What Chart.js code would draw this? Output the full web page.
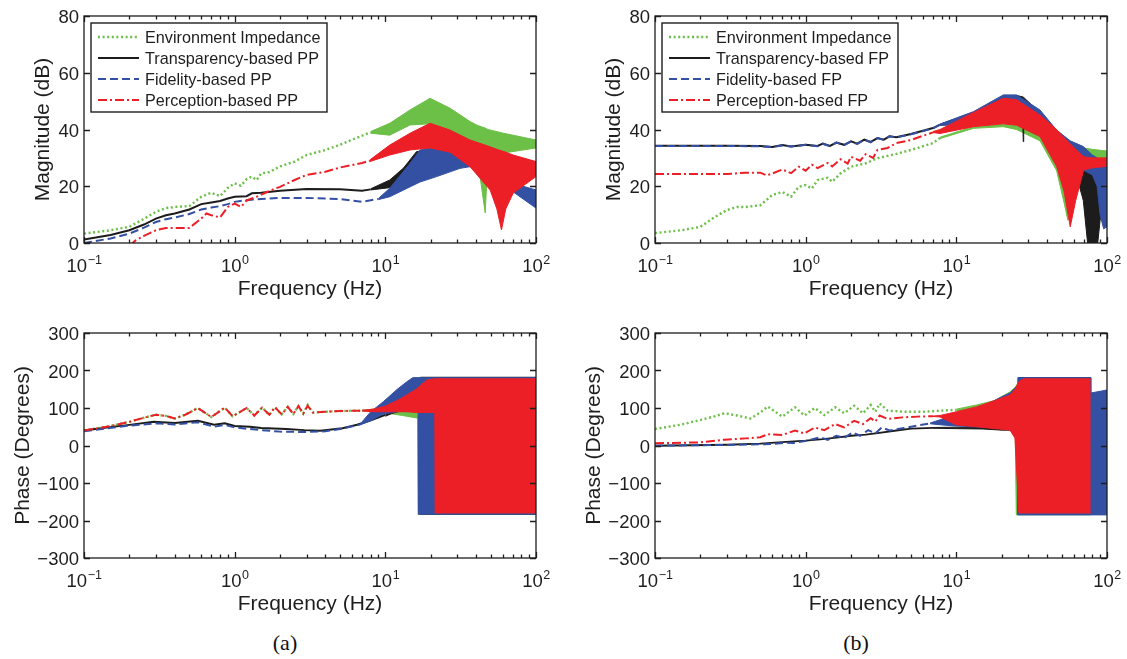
<!DOCTYPE html>
<html>
<head>
<meta charset="utf-8">
<script src="https://cdn.jsdelivr.net/npm/chart.js@4.4.1/dist/chart.umd.min.js"></script>
<style>
  body { margin: 0; background: #fff; }
  #page { position: relative; width: 1127px; height: 659px; overflow: hidden; background: #fff; }
  canvas { position: absolute; }
  .cap { position: absolute; font-family: "Liberation Serif", "Times New Roman", serif; font-size: 22px; line-height: 24px; color: #111; transform: translateX(-50%); }
</style>
</head>
<body>
<div id="page">
  <canvas id="aMag" width="556" height="310" style="left:0;top:0"></canvas>
  <canvas id="bMag" width="556" height="310" style="left:571px;top:0"></canvas>
  <canvas id="aPh" width="556" height="310" style="left:0;top:317px"></canvas>
  <canvas id="bPh" width="556" height="310" style="left:571px;top:317px"></canvas>
  <div class="cap" style="left:285px;top:631px">(a)</div>
  <div class="cap" style="left:856px;top:631px">(b)</div>
</div>
<script>
// ticks / labels
const freqTicks = [0.1, 1, 10, 100];
const freqExp = ['\u22121', '0', '1', '2'];
const magTicks = [0, 20, 40, 60, 80];
const phaseTicks = [-300, -200, -100, 0, 100, 200, 300];
const legendA = ['Environment Impedance', 'Transparency-based PP', 'Fidelity-based PP', 'Perception-based PP'];
const legendB = ['Environment Impedance', 'Transparency-based FP', 'Fidelity-based FP', 'Perception-based FP'];

// ---- (a) magnitude, dB ----
const aMagEnvF = [0.1,0.15,0.2,0.25,0.3,0.35,0.4,0.5,0.6,0.7,0.8,0.9,1,1.1,1.2,1.3,1.4,1.5,1.7,2,2.5,3,4,5,6,7,8];
const aMagEnvV = [3.3,4.5,5.7,8.5,11,12.3,12.7,13,16.3,17.7,16.5,19.4,21,20.2,22.5,23.4,22.2,24.5,25,27,28.7,31,32.8,34.6,36.4,37.8,39];
const aMagEnvBF = [8,10.7,14.6,19.8,26.9,36.5,40.6,46,48,60.7,100];
const aMagEnvHi = [39.3,42.2,46.9,51,47.5,42.8,41.5,40.5,40,38.7,36.3];
const aMagEnvLo = [38.7,38,41.6,42,38,32.8,31,10.6,30,31.7,33.5];

const aMagTrF = [0.1,0.15,0.2,0.25,0.3,0.35,0.4,0.5,0.6,0.7,0.8,0.9,1,1.2,1.3,1.5,2,3,5,7,8];
const aMagTrV = [1.2,2.8,4.5,6.5,8.6,9.8,10.4,11.8,13.7,14.3,14.8,15.7,16.3,16.5,17.5,17.7,18.4,19,18.9,18.4,18.9];
const aMagTrBF = [8,10.7,13.2,16.1,20];
const aMagTrHi = [19.1,22.2,26.4,32.2,33];
const aMagTrLo = [18.7,19.5,21,24,26];

const aMagFidF = [0.1,0.15,0.2,0.25,0.3,0.35,0.4,0.5,0.6,0.7,0.8,0.9,1,1.2,1.5,2,3,5,7,8,9];
const aMagFidV = [0,1.6,3.3,5.4,7.4,8.4,9,10.2,11.8,12.5,13,13.7,14.5,15.1,15.5,15.9,15.9,15.5,14.5,15.1,15.5];
const aMagFidBF = [9,10.7,14.6,17,21.9,31.3,36.5,49.6,70.6,100];
const aMagFidHi = [15.7,19.3,28.1,32.8,33.9,30.4,29.2,27,21,18.7];
const aMagFidLo = [15.3,16.3,19.8,21.5,23.4,26.3,26.9,24,18,12.3];

const aMagPerF = [0.2,0.22,0.25,0.3,0.35,0.4,0.5,0.6,0.65,0.7,0.8,0.9,1,1.1,1.2,1.4,1.6,1.8,2,2.5,3,4,5,7,7.9];
const aMagPerV = [-1,0.9,2.5,4.5,5.3,5.3,5.3,8.6,10.4,9.8,9,12.7,13.9,12.7,15,16.3,17.7,18.9,19.8,22.2,24,25.1,26.6,28.2,29];
const aMagPerBF = [7.9,10.7,14.6,19.8,26.9,36.5,49.6,55,59,63,70.6,100];
const aMagPerHi = [29.3,34.5,38.7,42.2,39.8,36.3,33.9,33,32.5,32,31,28.7];
const aMagPerLo = [28.7,31,32.8,33.5,32,26.9,18.7,12,4.6,12,17.6,23.4];

// ---- (b) magnitude, dB ----
const bMagEnvF = [0.1,0.15,0.2,0.25,0.3,0.35,0.4,0.5,0.6,0.7,0.8,0.9,1,1.1,1.2,1.4,1.5,1.7,2,2.5,3,4,5,7,7.8];
const bMagEnvV = [3.5,4.5,5.7,9.2,11.6,12.7,12.7,13.3,16.9,18,16.3,19.8,20.4,19.2,22.2,23,21.6,24.5,26.9,28.1,29.9,31.4,32.8,35.2,37];
const bMagEnvBF = [7.8,13,20.5,25.1,35.9,46.3,52,55,58,70,80,100];
const bMagEnvHi = [37.3,41,42,41.5,38,35,34.5,34,33.8,33.5,33,32.4];
const bMagEnvLo = [36.8,40.4,41,40,36,25.5,14,8,18,28,29,30];

const bMagTrF = [0.1,0.3,0.5,0.6,0.7,0.8,1,1.2,1.3,1.45,1.6,1.8,2,2.2,2.45,2.7,3,3.3,3.6,4,5,7,7.8];
const bMagTrV = [34.3,34.3,34.2,33.8,34.5,34,34.6,34.2,35,34.2,35.4,34.6,35.8,35,36.4,35.6,37,36.4,37.6,37.3,38.4,40.5,41.7];
const bMagTrBF = [7.8,13,20.5,25.1,27.6,27.8,28,35.9,46.3,57,64,69.6,75,80,86,90,100];
const bMagTrHi = [41.9,46,51.5,52,51.5,51.4,51.3,46,39,35,33,32,30,29,28,27,26];
const bMagTrLo = [41.5,42,44,44,43.5,35.7,43.3,40,33,26,22,15,-2,-2,-2,8,15];

const bMagFidF = [0.1,0.3,0.5,0.6,0.7,0.8,1,1.2,1.3,1.45,1.6,1.8,2,2.2,2.45,2.7,3,3.3,3.6,4,5,7,7.8];
const bMagFidV = [34.2,34.2,34.1,33.8,34.4,34,34.6,34.1,35,34.1,35.4,34.5,35.8,34.9,36.4,35.5,37,36.3,37.6,37.2,38.3,40.4,41.7];
const bMagFidBF = [7.8,13,20.5,25.1,35.9,46.3,57,69.6,80,86,90,95,100];
const bMagFidHi = [41.9,46.3,52.2,52.2,46.9,39.8,36,34,31,30,29.5,29,29];
const bMagFidLo = [41.5,42,44,44,40,34,28,25.7,24,20,10,5,5.7];

const bMagPerF = [0.1,0.2,0.3,0.4,0.5,0.55,0.6,0.7,0.8,0.9,1,1.1,1.2,1.4,1.5,1.7,1.9,2,2.3,2.5,2.8,3,3.5,4,5,7];
const bMagPerV = [24.3,24.3,24.3,24.8,24.8,23.8,24.5,25.9,24.6,26.9,25.5,27.6,26.4,28.2,27,29.5,28,30.4,29,31.3,30,32.8,33.5,35.2,36.3,39];
const bMagPerBF = [7,7.8,13,20.5,25.1,35.9,46.3,52,57,62,70,80,100];
const bMagPerHi = [39.3,40,46,51,50.5,45.1,40,37,35,33,30.4,30,30];
const bMagPerLo = [38.9,38.6,41,42,41.5,37.5,27,18,5.7,15,25.7,26.5,27];

// ---- (a) phase, degrees ----
const aPhEnvF = [0.1,0.15,0.2,0.25,0.3,0.35,0.4,0.47,0.57,0.7,0.86,0.97,1.2,1.35,1.52,1.7,1.85,2.05,2.25,2.45,2.65,2.85,3.05,3.3,4,5,7,10];
const aPhEnvV = [40,52,63,74,82,79,72,82,100,76,101,78,100,80,101,82,102,83,103,84,105,85,108,88,90,92,93,97];
const aPhEnvBF = [7,9.7,13,16.4,16.5,100];
const aPhEnvHi = [93.5,100,105,110,181,181];
const aPhEnvLo = [92.5,88,80,73,-184,-184];

const aPhTrF = [0.1,0.15,0.2,0.29,0.4,0.57,0.73,0.86,1,1.26,1.5,2.2,2.9,3.7,5.2,6.5,8.1,10];
const aPhTrV = [40,49,55,63.5,60,66,55.5,59,52,50,46.7,44,41,39.6,45.8,55.5,68,82];
const aPhTrBF = [10,11,12.5,14,16,17,17.1,100];
const aPhTrHi = [84,95,118,125,135,150,182,182];
const aPhTrLo = [78,85,92,95,98,100,-183,-183];

const aPhFidF = [0.1,0.2,0.3,0.4,0.57,0.73,0.86,1,1.5,2,3,4,5,6.8];
const aPhFidV = [38,53,59,56,62,50,55,48,41,37,36,38,44,56];
const aPhFidBF = [6.8,8,9.7,12,13.9,15.2,16.5,16.6,100];
const aPhFidHi = [57,90,117,150,170,181,181,181,181];
const aPhFidLo = [55,66,84,90,92,92,92,-183,-183];

const aPhPerF = [0.1,0.15,0.2,0.25,0.3,0.35,0.4,0.47,0.57,0.7,0.86,0.97,1.2,1.35,1.52,1.7,1.85,2.05,2.25,2.45,2.65,2.85,3.05,3.3,4,5,7];
const aPhPerV = [40,52,63,74,82,79,72,82,100,76,101,78,100,80,101,82,102,83,103,84,105,85,106,88,90,92,93];
const aPhPerBF = [7,8.3,10,12,13.9,16,18.9,21.3,21.4,100];
const aPhPerHi = [94,97,105,120,135,150,175,178,178,178];
const aPhPerLo = [92,90,90,90,90,88,88,88,-180,-180];

// ---- (b) phase, degrees ----
const bPhEnvF = [0.1,0.15,0.2,0.25,0.29,0.35,0.43,0.5,0.56,0.7,0.85,0.98,1.15,1.33,1.57,1.8,2.1,2.4,2.7,2.9,3.1,3.5,4.5,6,8,10];
const bPhEnvV = [44,56,68,78,86,80,72,88,104,77,102,80,100,81,102,86,106,86,108,90,112,93,90,90,93,95];
const bPhEnvBF = [10,13.6,18,22.7,24.5,25,26.4,28,78];
const bPhEnvHi = [97,108,120,143,155,160,175,181,181];
const bPhEnvLo = [93,90,90,92,94,-185,-185,-185,-185];

const bPhTrF = [0.1,0.3,0.5,0.7,1,1.3,1.6,2,2.5,3,4,5,7];
const bPhTrV = [-1,2,5,9,13,17,21,26,29,33,40,45,47];
const bPhTrBF = [7,10,15,20,25,25.8,25.9,78];
const bPhTrHi = [48,49,48,45,50,60,181,181];
const bPhTrLo = [46,45,44,41,41,41,-183,-183];

const bPhFidF = [0.1,0.3,0.6,0.74,0.83,1.03,1.25,1.4,1.6,1.8,2.05,2.3,2.6,2.9,3.2,3.6,4.4,5.5,6.7];
const bPhFidV = [-0.5,1.5,4,7.6,7,13,22,15,26,20,35,26,41,32,48,40,46,53,59];
const bPhFidBF = [6.7,8,10,13,16,20,22.7,25.5,25.6,78,78.1,100];
const bPhFidHi = [60,70,80,92,110,130,140,160,181,181,140,148];
const bPhFidLo = [58,55,52,50,48,46,46,46,-185,-185,-185,-185];

const bPhPerF = [0.1,0.2,0.29,0.4,0.5,0.56,0.7,0.85,0.98,1.15,1.33,1.57,1.8,2.1,2.4,2.7,2.9,3.1,3.5,4.4,5.5,7];
const bPhPerV = [6,8.4,15.6,19,22,30,28,40,32,48,41,57,48,66,57,73,64,80,71,75,77,78];
const bPhPerBF = [7,7.8,10,13.6,18,22.7,24.5,26,27.9,78];
const bPhPerHi = [78.5,80,90,103,120,135,150,170,178,178];
const bPhPerLo = [77.5,76,55,50,45,41,20,-180,-180,-180];

const styles = {
  env: { color: '#6cbf47', dash: [2, 2.6], width: 2.4, order: 4 },
  tr:  { color: '#1c1c1c', dash: [], width: 2, order: 3 },
  fid: { color: '#3450a2', dash: [8, 4], width: 2, order: 2 },
  per: { color: '#ec1f27', dash: [9, 3, 2, 3], width: 2, order: 1 }
};
const seriesKeys = ['env', 'tr', 'fid', 'per'];
const FONT = '"Liberation Sans", Arial, sans-serif';

function pts(f, v) {
  return f.map((x, i) => ({ x: x, y: v[i] }));
}

// line part + filled band (hi filled down to lo) for each series
function build(list) {
  const sets = [];
  list.forEach(s => {
    const st = styles[s.key];
    sets.push({ data: pts(s.f, s.v), borderColor: st.color, borderWidth: st.width, borderDash: st.dash, order: st.order, fill: false });
    const hi = sets.length;
    sets.push({ data: pts(s.bf, s.hi), borderColor: st.color, backgroundColor: st.color, borderWidth: 1, order: st.order, fill: hi + 1 });
    sets.push({ data: pts(s.bf, s.lo), borderColor: st.color, borderWidth: 1, order: st.order, fill: false });
  });
  return sets;
}

const framePlugin = {
  id: 'frame',
  afterDatasetsDraw(chart, args, o) {
    const { ctx, chartArea: a } = chart;
    const x = chart.scales.x, y = chart.scales.y;
    ctx.save();
    ctx.strokeStyle = '#1e1e1e';
    ctx.lineWidth = 1.3;
    ctx.setLineDash([]);
    ctx.beginPath();
    freqTicks.forEach((d, i) => {
      for (let m = 1; m < 10; m++) {
        if (i === freqTicks.length - 1 && m > 1) break;
        const px = Math.round(x.getPixelForValue(d * m)) + 0.5;
        const len = m === 1 ? 6 : 3.5;
        ctx.moveTo(px, a.bottom); ctx.lineTo(px, a.bottom - len);
        ctx.moveTo(px, a.top); ctx.lineTo(px, a.top + len);
      }
    });
    o.yTicks.forEach(v => {
      const py = Math.round(y.getPixelForValue(v)) + 0.5;
      ctx.moveTo(a.left, py); ctx.lineTo(a.left + 6, py);
      ctx.moveTo(a.right, py); ctx.lineTo(a.right - 6, py);
    });
    ctx.stroke();
    ctx.strokeRect(a.left, a.top, a.right - a.left, a.bottom - a.top);

    ctx.fillStyle = '#1e1e1e';
    // y tick labels
    ctx.font = '18.5px ' + FONT;
    ctx.textAlign = 'right';
    ctx.textBaseline = 'alphabetic';
    o.yTicks.forEach(v => {
      const py = y.getPixelForValue(v);
      ctx.fillText(v < 0 ? '\u2212' + Math.abs(v) : String(v), a.left - 5, py + 7);
    });
    // x tick labels 10^n
    ctx.textAlign = 'left';
    freqTicks.forEach((d, i) => {
      const px = x.getPixelForValue(d);
      ctx.font = '18.5px ' + FONT;
      const w1 = ctx.measureText('10').width;
      ctx.font = '12.5px ' + FONT;
      const w2 = ctx.measureText(freqExp[i]).width;
      const x0 = px - (w1 + w2) / 2;
      ctx.font = '18.5px ' + FONT;
      ctx.fillText('10', x0, a.bottom + 29);
      ctx.font = '12.5px ' + FONT;
      ctx.fillText(freqExp[i], x0 + w1 + 0.5, a.bottom + 21);
    });
    // axis titles
    ctx.font = '21px ' + FONT;
    ctx.textAlign = 'center';
    ctx.fillText('Frequency (Hz)', (a.left + a.right) / 2, a.bottom + 52);
    ctx.save();
    ctx.translate(a.left - o.titleOff, (a.top + a.bottom) / 2);
    ctx.rotate(-Math.PI / 2);
    ctx.fillText(o.yTitle, 0, 0);
    ctx.restore();

    // legend box
    if (o.legend) {
      const L = 91, T = 23, W = 236, H = 89;
      ctx.fillStyle = '#fff';
      ctx.fillRect(L, T, W, H);
      ctx.lineWidth = 1.4;
      ctx.strokeStyle = '#1e1e1e';
      ctx.strokeRect(L, T, W, H);
      ctx.font = '16.2px ' + FONT;
      ctx.textAlign = 'left';
      o.legend.forEach((txt, i) => {
        const st = styles[seriesKeys[i]];
        const ry = T + 14 + i * 21;
        ctx.beginPath();
        ctx.strokeStyle = st.color;
        ctx.lineWidth = st.width;
        ctx.setLineDash(st.dash);
        ctx.moveTo(L + 7, ry);
        ctx.lineTo(L + 48, ry);
        ctx.stroke();
        ctx.setLineDash([]);
        ctx.fillStyle = '#1e1e1e';
        ctx.fillText(txt, L + 54, ry + 6);
      });
    }
    ctx.restore();
  }
};

function makeChart(id, list, yMin, yMax, frame, padBottom) {
  return new Chart(document.getElementById(id), {
    type: 'line',
    data: { datasets: build(list) },
    options: {
      responsive: false,
      animation: false,
      devicePixelRatio: 1,
      layout: { padding: { left: 84, top: 16, right: 20, bottom: padBottom } },
      scales: {
        x: { type: 'logarithmic', min: 0.1, max: 100, display: false },
        y: { type: 'linear', min: yMin, max: yMax, display: false }
      },
      elements: { point: { radius: 0 }, line: { tension: 0 } },
      plugins: { legend: { display: false }, tooltip: { enabled: false }, frame: frame }
    },
    plugins: [framePlugin]
  });
}

makeChart('aMag', [
  { key: 'env', f: aMagEnvF, v: aMagEnvV, bf: aMagEnvBF, hi: aMagEnvHi, lo: aMagEnvLo },
  { key: 'tr', f: aMagTrF, v: aMagTrV, bf: aMagTrBF, hi: aMagTrHi, lo: aMagTrLo },
  { key: 'fid', f: aMagFidF, v: aMagFidV, bf: aMagFidBF, hi: aMagFidHi, lo: aMagFidLo },
  { key: 'per', f: aMagPerF, v: aMagPerV, bf: aMagPerBF, hi: aMagPerHi, lo: aMagPerLo }
], 0, 80, { yTicks: magTicks, yTitle: 'Magnitude (dB)', titleOff: 35, legend: legendA }, 67);

makeChart('bMag', [
  { key: 'env', f: bMagEnvF, v: bMagEnvV, bf: bMagEnvBF, hi: bMagEnvHi, lo: bMagEnvLo },
  { key: 'tr', f: bMagTrF, v: bMagTrV, bf: bMagTrBF, hi: bMagTrHi, lo: bMagTrLo },
  { key: 'fid', f: bMagFidF, v: bMagFidV, bf: bMagFidBF, hi: bMagFidHi, lo: bMagFidLo },
  { key: 'per', f: bMagPerF, v: bMagPerV, bf: bMagPerBF, hi: bMagPerHi, lo: bMagPerLo }
], 0, 80, { yTicks: magTicks, yTitle: 'Magnitude (dB)', titleOff: 35, legend: legendB }, 67);

makeChart('aPh', [
  { key: 'env', f: aPhEnvF, v: aPhEnvV, bf: aPhEnvBF, hi: aPhEnvHi, lo: aPhEnvLo },
  { key: 'tr', f: aPhTrF, v: aPhTrV, bf: aPhTrBF, hi: aPhTrHi, lo: aPhTrLo },
  { key: 'fid', f: aPhFidF, v: aPhFidV, bf: aPhFidBF, hi: aPhFidHi, lo: aPhFidLo },
  { key: 'per', f: aPhPerF, v: aPhPerV, bf: aPhPerBF, hi: aPhPerHi, lo: aPhPerLo }
], -300, 300, { yTicks: phaseTicks, yTitle: 'Phase (Degrees)', titleOff: 55, legend: null }, 69);

makeChart('bPh', [
  { key: 'env', f: bPhEnvF, v: bPhEnvV, bf: bPhEnvBF, hi: bPhEnvHi, lo: bPhEnvLo },
  { key: 'tr', f: bPhTrF, v: bPhTrV, bf: bPhTrBF, hi: bPhTrHi, lo: bPhTrLo },
  { key: 'fid', f: bPhFidF, v: bPhFidV, bf: bPhFidBF, hi: bPhFidHi, lo: bPhFidLo },
  { key: 'per', f: bPhPerF, v: bPhPerV, bf: bPhPerBF, hi: bPhPerHi, lo: bPhPerLo }
], -300, 300, { yTicks: phaseTicks, yTitle: 'Phase (Degrees)', titleOff: 55, legend: null }, 69);
</script>
</body>
</html>
